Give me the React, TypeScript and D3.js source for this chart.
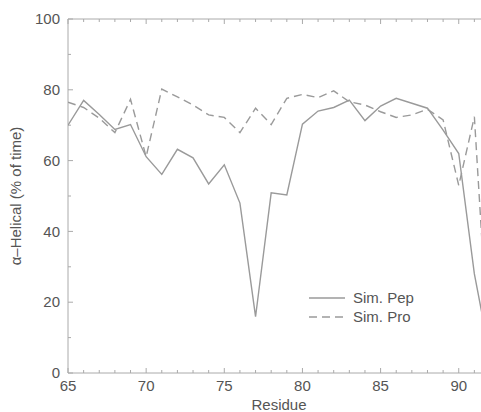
import React from "react";
import * as d3 from "d3";

const residues = [65,66,67,68,69,70,71,72,73,74,75,76,77,78,79,80,81,82,83,84,85,86,87,88,89,90,91,92];
const simPep = [70,77,73,68.8,70.2,61.1,56.1,63.2,60.8,53.4,58.8,48,15.9,50.9,50.3,70.3,74,75,77.1,71.3,75.4,77.6,76.2,74.8,68.6,62,28,5];
const simPro = [76.5,75,72,67.9,77.3,61.1,80.2,78,75.7,72.9,72.2,67.9,74.8,70.2,77.6,78.7,77.8,79.7,76.6,75.7,73.8,72.2,72.9,74.5,71.5,53,72.4,0];
const xTicks = [65,70,75,80,85,90];
const yTicks = [0,20,40,60,80,100];
const seriesNames = ["Sim. Pep", "Sim. Pro"];

export default function App() {
  const W = 481, H = 412;
  const x = d3.scaleLinear().domain([65, 92]).range([68, 490]);
  const y = d3.scaleLinear().domain([0, 100]).range([373, 19]);
  const line = d3.line<number>().x((_, i) => x(residues[i])).y((d) => y(d));
  const axisColor = "#aaa";
  const textColor = "#555";
  const lineColor = "#9a9a9a";
  const font = "Liberation Sans, Arial, sans-serif";
  const minorX = d3.range(65, 93, 1);
  const minorY = d3.range(0, 101, 10);
  return (
    <svg width={W} height={H} style={{ position: "absolute", left: 0, top: 0, background: "#fff" }} fontFamily={font}>
      <defs>
        <clipPath id="plot">
          <rect x={68} y={19} width={422} height={354} />
        </clipPath>
      </defs>
      <line x1={x(65)} x2={x(92)} y1={y(0)} y2={y(0)} stroke={axisColor} />
      <line x1={x(65)} x2={x(92)} y1={y(100)} y2={y(100)} stroke={axisColor} />
      <line x1={x(65)} x2={x(65)} y1={y(0)} y2={y(100)} stroke={axisColor} />
      {minorX.map((t) => {
        const len = t % 5 === 0 ? 5 : 3;
        return (
          <g key={"xt" + t}>
            <line x1={x(t)} x2={x(t)} y1={y(0)} y2={y(0) - len} stroke={axisColor} />
            <line x1={x(t)} x2={x(t)} y1={y(100)} y2={y(100) + len} stroke={axisColor} />
          </g>
        );
      })}
      {minorY.map((t) => {
        const len = t % 20 === 0 ? 5 : 3;
        return <line key={"yt" + t} x1={x(65)} x2={x(65) + len} y1={y(t)} y2={y(t)} stroke={axisColor} />;
      })}
      {xTicks.map((t) => (
        <text key={"xl" + t} x={x(t)} y={391} textAnchor="middle" fontSize={15} fill={textColor}>{t}</text>
      ))}
      {yTicks.map((t) => (
        <text key={"yl" + t} x={60} y={y(t)} dy="0.35em" textAnchor="end" fontSize={15} fill={textColor}>{t}</text>
      ))}
      <text x={279} y={410} textAnchor="middle" fontSize={15} fill={textColor}>Residue</text>
      <text transform={`translate(21,${(y(0) + y(100)) / 2}) rotate(-90)`} textAnchor="middle" fontSize={15} fill={textColor}>α–Helical (% of time)</text>
      <g clipPath="url(#plot)">
        <path d={line(simPep) || ""} fill="none" stroke={lineColor} strokeWidth={1.4} />
        <path d={line(simPro) || ""} fill="none" stroke={lineColor} strokeWidth={1.4} strokeDasharray="8,5" />
      </g>
      <line x1={309} x2={345} y1={298} y2={298} stroke={lineColor} strokeWidth={1.4} />
      <text x={353} y={303} fontSize={15} fill={textColor}>{seriesNames[0]}</text>
      <line x1={309} x2={345} y1={317} y2={317} stroke={lineColor} strokeWidth={1.4} strokeDasharray="8,5" />
      <text x={353} y={322} fontSize={15} fill={textColor}>{seriesNames[1]}</text>
    </svg>
  );
}
